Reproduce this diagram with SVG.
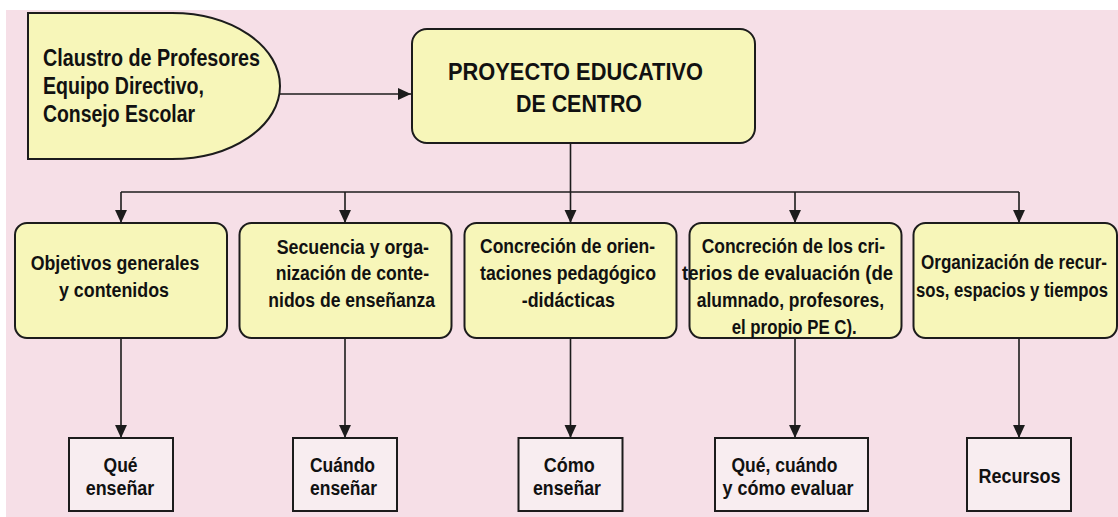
<svg xmlns="http://www.w3.org/2000/svg" width="1118" height="517" viewBox="0 0 1118 517">
<style>
.bg{fill:#f6dfe7}
.y{fill:#f7f6b9;stroke:#1c1c1c;stroke-width:2}
.p{fill:#f8edf0;stroke:#1c1c1c;stroke-width:2}
.c{fill:none;stroke:#1c1c1c;stroke-width:1.6}
text{font-family:"Liberation Sans",Arial,sans-serif;fill:#111;font-weight:bold}
.t22{font-size:23px}
.t19{font-size:20px}
</style>
<defs>
<marker id="ah" viewBox="0 0 12 12" refX="12" refY="6" markerWidth="13" markerHeight="13" markerUnits="userSpaceOnUse" orient="auto">
<path d="M0,0.5 L12,6 L0,11.5 Z" fill="#1c1c1c"/>
</marker>
</defs>
<rect x="0" y="0" width="1118" height="517" fill="#ffffff"/>
<rect class="bg" x="6" y="10" width="1112" height="507"/>

<g id="connectors">
<path class="c" d="M280,94 H411" marker-end="url(#ah)"/>
<path class="c" d="M570.5,143 V192"/>
<path class="c" d="M121,192 H1019"/>
<path class="c" d="M121,192 V223" marker-end="url(#ah)"/>
<path class="c" d="M345,192 V223" marker-end="url(#ah)"/>
<path class="c" d="M570.5,192 V223" marker-end="url(#ah)"/>
<path class="c" d="M795,192 V223" marker-end="url(#ah)"/>
<path class="c" d="M1019,192 V223" marker-end="url(#ah)"/>
<path class="c" d="M121,338 V438" marker-end="url(#ah)"/>
<path class="c" d="M345,338 V438" marker-end="url(#ah)"/>
<path class="c" d="M570.5,338 V438" marker-end="url(#ah)"/>
<path class="c" d="M795,338 V438" marker-end="url(#ah)"/>
<path class="c" d="M1019,338 V438" marker-end="url(#ah)"/>
</g>

<g id="claustro">
<path class="y" d="M28,13 H172 A108,73 0 0 1 172,159 H28 Z"/>
<text class="t22" x="43" y="66" textLength="217" lengthAdjust="spacingAndGlyphs">Claustro de Profesores</text>
<text class="t22" x="43" y="94" textLength="161" lengthAdjust="spacingAndGlyphs">Equipo Directivo,</text>
<text class="t22" x="43" y="122" textLength="152" lengthAdjust="spacingAndGlyphs">Consejo Escolar</text>
</g>

<g id="pec">
<rect class="y" x="412" y="29" width="343" height="114" rx="15" ry="15"/>
<text class="t22" x="448" y="80" textLength="255" lengthAdjust="spacingAndGlyphs">PROYECTO EDUCATIVO</text>
<text class="t22" x="516" y="112" textLength="126" lengthAdjust="spacingAndGlyphs">DE CENTRO</text>
</g>

<g id="objetivos">
<rect class="y" x="15" y="223" width="212" height="115" rx="12" ry="12"/>
<text class="t19" x="30.7" y="270" textLength="168.6" lengthAdjust="spacingAndGlyphs">Objetivos generales</text>
<text class="t19" x="59" y="297" textLength="110" lengthAdjust="spacingAndGlyphs">y contenidos</text>
</g>

<g id="secuencia">
<rect class="y" x="239.5" y="223" width="212" height="115" rx="12" ry="12"/>
<text class="t19" x="276.7" y="254" textLength="152.3" lengthAdjust="spacingAndGlyphs">Secuencia y orga-</text>
<text class="t19" x="275.7" y="280" textLength="153.3" lengthAdjust="spacingAndGlyphs">nización de conte-</text>
<text class="t19" x="268.3" y="306.7" textLength="166.7" lengthAdjust="spacingAndGlyphs">nidos de enseñanza</text>
</g>

<g id="orientaciones">
<rect class="y" x="464.5" y="223" width="212" height="115" rx="12" ry="12"/>
<text class="t19" x="480" y="253.3" textLength="175" lengthAdjust="spacingAndGlyphs">Concreción de orien-</text>
<text class="t19" x="480" y="280" textLength="176" lengthAdjust="spacingAndGlyphs">taciones pedagógico</text>
<text class="t19" x="521.7" y="306.7" textLength="93.3" lengthAdjust="spacingAndGlyphs">-didácticas</text>
</g>

<g id="criterios">
<rect class="y" x="689.5" y="223" width="212" height="115" rx="12" ry="12"/>
<text class="t19" x="701.7" y="253" textLength="183.3" lengthAdjust="spacingAndGlyphs">Concreción de los cri-</text>
<text class="t19" x="682" y="280" textLength="211" lengthAdjust="spacingAndGlyphs">terios de evaluación (de</text>
<text class="t19" x="696.7" y="307" textLength="187.3" lengthAdjust="spacingAndGlyphs">alumnado, profesores,</text>
<text class="t19" x="731.7" y="333.5" textLength="125" lengthAdjust="spacingAndGlyphs">el propio PE C).</text>
</g>

<g id="recursos-org">
<rect class="y" x="913.5" y="223" width="203.5" height="115" rx="12" ry="12"/>
<text class="t19" x="921" y="269.3" textLength="186" lengthAdjust="spacingAndGlyphs">Organización de recur-</text>
<text class="t19" x="916" y="296.7" textLength="192" lengthAdjust="spacingAndGlyphs">sos, espacios y tiempos</text>
</g>

<g id="que">
<rect class="p" x="69" y="438" width="104" height="73"/>
<text class="t19" x="103.6" y="471.5" textLength="34" lengthAdjust="spacingAndGlyphs">Qué</text>
<text class="t19" x="85.7" y="494.5" textLength="68.6" lengthAdjust="spacingAndGlyphs">enseñar</text>
</g>

<g id="cuando">
<rect class="p" x="293" y="438" width="104" height="73"/>
<text class="t19" x="310" y="471.5" textLength="65" lengthAdjust="spacingAndGlyphs">Cuándo</text>
<text class="t19" x="310" y="494.5" textLength="67" lengthAdjust="spacingAndGlyphs">enseñar</text>
</g>

<g id="como">
<rect class="p" x="518.5" y="438" width="104" height="73"/>
<text class="t19" x="543.7" y="471.5" textLength="51" lengthAdjust="spacingAndGlyphs">Cómo</text>
<text class="t19" x="533" y="494.5" textLength="68" lengthAdjust="spacingAndGlyphs">enseñar</text>
</g>

<g id="evaluar">
<rect class="p" x="715" y="438" width="153" height="73"/>
<text class="t19" x="731.5" y="471.5" textLength="106" lengthAdjust="spacingAndGlyphs">Qué, cuándo</text>
<text class="t19" x="722.5" y="494.5" textLength="131" lengthAdjust="spacingAndGlyphs">y cómo evaluar</text>
</g>

<g id="recursos">
<rect class="p" x="967" y="438" width="104" height="73"/>
<text class="t19" x="978.6" y="483" textLength="82" lengthAdjust="spacingAndGlyphs">Recursos</text>
</g>
</svg>
